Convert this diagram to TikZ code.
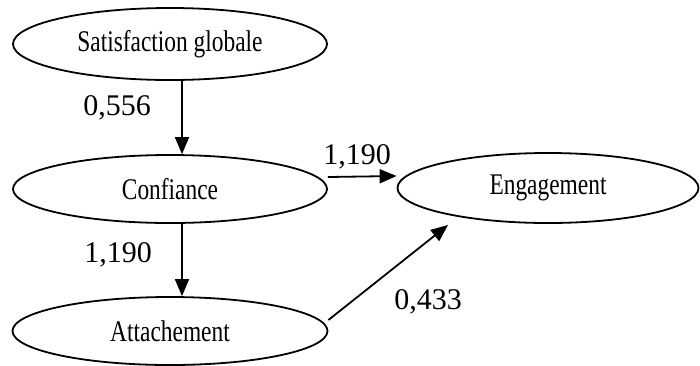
\documentclass[tikz,border=0pt]{standalone}
\usepackage{fontspec}
\setmainfont{Liberation Serif}
\newfontfamily\narrowserif[FakeStretch=0.78]{Liberation Serif}
\usetikzlibrary{shapes.geometric,arrows.meta}

\begin{document}
\begin{tikzpicture}[x=0.5pt, y=-0.5pt, line width=0.9pt,
          v/.style={draw, ellipse, inner sep=0pt, minimum width=157pt, minimum height=34pt,
                    font=\narrowserif\fontsize{15}{18}\selectfont},
          w/.style={inner sep=0pt, font=\fontsize{15}{18}\selectfont},
          arr/.style={-{Triangle[length=8.5pt,width=7pt]}}]
        \useasboundingbox (0,0) rectangle (700,365);
        \node[v, minimum height=36pt] (sat) at (170,44) {Satisfaction globale};
        \node[v] (conf) at (170,189) {Confiance};
        \node[v, minimum width=157.5pt] (att) at (170,331) {Attachement};
        \node[v, minimum width=150.5pt, minimum height=35pt] (eng) at (548,188) {Engagement};
        \node[w] (w1) at (117,108) {0,556};
        \node[w] (w2) at (357,157) {1,190};
        \node[w] (w3) at (118,255) {1,190};
        \node[w] (w4) at (428,302) {0,433};
        \draw[arr] ([xshift=6pt]sat.south) -- ([xshift=6pt]conf.north);
        \draw[arr] ([xshift=6pt]conf.south) -- ([xshift=6pt]att.north);
        \draw[arr] ([yshift=6pt]conf.east) -- ([yshift=6pt]eng.west);
        \draw[arr] ([yshift=5.5pt]att.east) -- ([shift={(-50pt,-18.5pt)}]eng.center);
      \end{tikzpicture}
\end{document}
